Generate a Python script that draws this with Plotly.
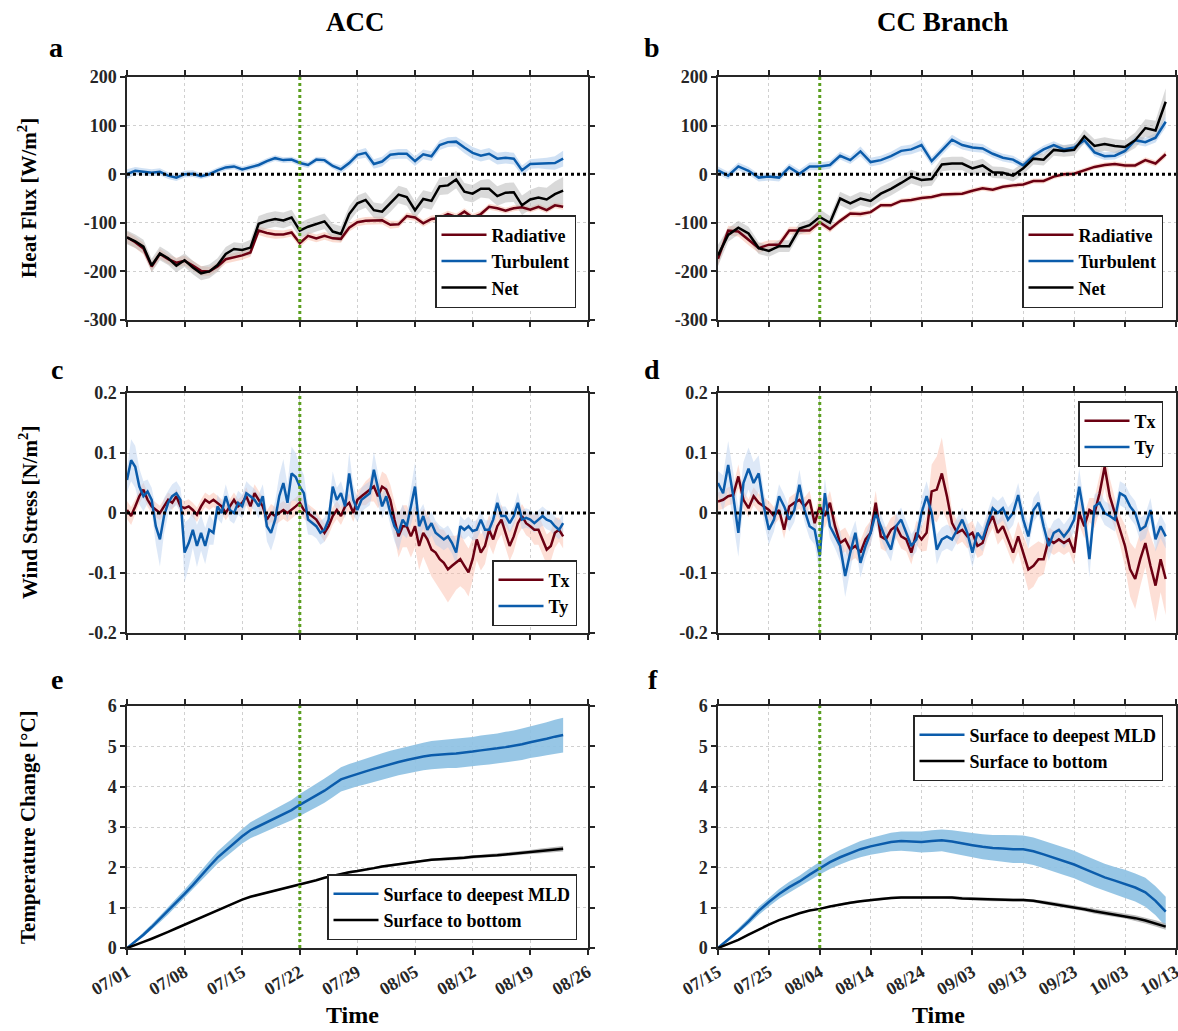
import pandas as pd
import plotly.graph_objects as go

# ---------------- DATA ----------------
ACC_START = "2021-07-01"
CC_START = "2021-07-15"

# Panel a: ACC heat flux (daily)
a_rad = [-130, -140, -153, -190, -164, -175, -182, -178, -188, -199,
         -200, -190, -175, -171, -167, -161, -116, -121, -124, -124,
         -120, -142, -127, -132, -127, -132, -133, -110, -99, -96,
         -96, -95, -104, -103, -86, -89, -101, -92, -90, -82,
         -88, -77, -89, -82, -67, -70, -75, -70, -68, -73,
         -67, -74, -64, -67]
a_turb = [0, 7, 5, 3, 5, -3, -7, 0, 1, -4,
          0, 8, 14, 16, 10, 14, 19, 27, 33, 29,
          30, 23, 19, 30, 29, 17, 10, 23, 40, 44,
          21, 26, 40, 42, 42, 27, 41, 37, 60, 66,
          67, 55, 44, 38, 42, 32, 34, 32, 8, 21,
          22, 22, 23, 32]
a_net = [-130, -138, -149, -188, -163, -173, -188, -177, -192, -204,
         -200, -187, -164, -154, -156, -151, -102, -96, -92, -95,
         -89, -116, -108, -102, -97, -118, -123, -82, -60, -53,
         -74, -77, -60, -42, -47, -74, -51, -55, -25, -23,
         -11, -36, -40, -30, -30, -45, -38, -37, -64, -52,
         -48, -52, -41, -34]
a_rad_sd = [12, 12, 12, 10, 10, 10, 10, 10, 10, 10, 9, 9, 9, 9, 9, 9, 9, 9, 9, 8,
            8, 8, 8, 8, 8, 8, 8, 8, 8, 8, 8, 8, 8, 7, 7, 7, 7, 7, 7, 7,
            7, 7, 7, 7, 6, 6, 6, 6, 6, 6, 6, 6, 6, 6]
a_turb_sd = [10, 8, 7, 7, 7, 7, 7, 7, 7, 6, 6, 6, 6, 6, 6, 6, 6, 6, 6, 6,
             6, 6, 6, 6, 6, 6, 8, 8, 9, 10, 10, 10, 10, 10, 10, 10, 10, 10, 10, 10,
             10, 12, 12, 12, 12, 12, 12, 12, 10, 10, 10, 12, 14, 16]
a_net_sd = [14, 14, 14, 14, 14, 14, 14, 14, 14, 14, 14, 14, 14, 14, 14, 16, 16, 16, 16, 16,
            16, 16, 16, 16, 16, 16, 16, 16, 16, 16, 16, 16, 18, 18, 18, 18, 18, 18, 18, 18,
            18, 18, 18, 18, 20, 20, 20, 20, 20, 20, 22, 24, 26, 28]

# Panel b: CC Branch heat flux (every 2 days)
b_rad = [-174, -116, -118, -136, -152, -145, -145, -116, -116, -116,
         -99, -113, -96, -81, -82, -78, -64, -64, -55, -53,
         -49, -47, -42, -41, -40, -34, -29, -32, -26, -23,
         -21, -14, -14, -5, 0, 1, 8, 15, 19, 21,
         18, 18, 29, 22, 41]
b_turb = [8, -3, 16, 7, -7, -5, -7, 14, 1, 16,
          16, 19, 38, 29, 47, 25, 29, 37, 48, 51,
          60, 27, 49, 71, 60, 55, 53, 42, 34, 30,
          18, 38, 51, 60, 51, 55, 70, 45, 37, 38,
          48, 70, 66, 75, 108]
b_net = [-167, -125, -110, -122, -152, -158, -148, -148, -112, -105,
         -88, -100, -50, -60, -50, -55, -40, -30, -18, -5,
         -12, -10, 20, 22, 22, 12, 18, 4, 3, -3,
         12, 32, 30, 50, 48, 50, 78, 58, 62, 58,
         56, 70, 95, 90, 149]
b_rad_sd = [14, 10, 10, 10, 10, 9, 9, 8, 8, 8, 7, 7, 6, 6, 6, 5, 5, 5, 5, 5,
            5, 5, 5, 5, 5, 5, 5, 5, 5, 5, 5, 5, 5, 5, 5, 5, 5, 5, 5, 5,
            5, 5, 6, 6, 7]
b_turb_sd = [8, 8, 8, 8, 8, 8, 8, 8, 8, 8, 8, 8, 8, 8, 10, 9, 9, 9, 10, 10,
             12, 9, 9, 10, 9, 9, 9, 8, 8, 8, 8, 8, 8, 8, 8, 8, 8, 8, 8, 8,
             8, 9, 9, 10, 12]
b_net_sd = [22, 14, 14, 14, 12, 12, 12, 12, 12, 12, 16, 14, 14, 14, 14, 14, 14, 14, 14, 14,
            14, 14, 14, 14, 14, 14, 14, 12, 12, 12, 12, 12, 12, 12, 12, 12, 14, 14, 14, 14,
            14, 16, 18, 20, 28]

# Panel c: ACC wind stress (every 12 h)
c_tx = [0.005, -0.005, 0.011, 0.028, 0.039, 0.022, 0.011, 0.005, 0.0, 0.011,
        0.022, 0.017, 0.028, 0.011, 0.008, 0.011, 0.005, -0.003, 0.011, 0.022,
        0.017, 0.022, 0.017, 0.011, 0.0, 0.011, 0.022, 0.011, 0.017, 0.028,
        0.011, 0.033, 0.022, 0.011, -0.011, 0.0, -0.005, 0.0, 0.005, 0.0,
        0.005, 0.011, 0.017, 0.005, 0.0, -0.005, -0.011, -0.022, -0.033, -0.022,
        -0.005, 0.005, -0.005, 0.011, 0.017, 0.0, 0.022, 0.028, 0.033, 0.039,
        0.044, 0.028, 0.044, 0.039, 0.022, -0.011, -0.039, -0.022, -0.022, -0.039,
        -0.022, -0.055, -0.033, -0.044, -0.061, -0.066, -0.077, -0.083, -0.094, -0.088,
        -0.083, -0.077, -0.088, -0.099, -0.077, -0.044, -0.066, -0.055, -0.028, -0.044,
        -0.022, -0.011, -0.033, -0.055, -0.039, -0.017, -0.005, -0.017, -0.022, -0.028,
        -0.028, -0.044, -0.061, -0.055, -0.033, -0.028, -0.039]
c_ty = [0.055, 0.088, 0.077, 0.044, 0.028, 0.036, 0.022, -0.022, -0.044, -0.005,
        0.017, 0.028, 0.033, 0.022, -0.066, -0.050, -0.028, -0.055, -0.033, -0.055,
        -0.028, -0.033, 0.011, 0.0, 0.028, 0.005, 0.0, 0.017, 0.011, 0.033,
        0.028, 0.022, 0.011, 0.028, -0.022, -0.033, -0.011, 0.028, 0.050, 0.017,
        0.066, 0.060, 0.044, 0.033, -0.011, -0.017, -0.022, -0.033, -0.028, -0.011,
        0.044, 0.022, 0.033, 0.011, 0.066, 0.022, 0.005, 0.022, 0.028, 0.033,
        0.072, 0.039, 0.011, 0.028, 0.0, -0.022, -0.033, -0.011, -0.022, 0.011,
        0.044, -0.022, -0.005, -0.028, -0.017, -0.033, -0.039, -0.044, -0.039, -0.050,
        -0.066, -0.022, -0.028, -0.022, -0.030, -0.028, -0.011, -0.028, -0.028, -0.011,
        0.017, -0.005, -0.005, -0.017, -0.005, 0.017, -0.011, -0.008, -0.011, -0.017,
        -0.011, -0.005, -0.011, -0.014, -0.022, -0.028, -0.017]
c_tx_sd = [0.015, 0.015, 0.012, 0.012, 0.012, 0.012, 0.012, 0.012, 0.012, 0.012,
           0.012, 0.012, 0.012, 0.012, 0.012, 0.012, 0.012, 0.012, 0.012, 0.012,
           0.012, 0.012, 0.012, 0.012, 0.012, 0.012, 0.012, 0.012, 0.012, 0.015,
           0.015, 0.015, 0.015, 0.015, 0.015, 0.015, 0.015, 0.015, 0.015, 0.015,
           0.015, 0.015, 0.015, 0.015, 0.015, 0.015, 0.015, 0.015, 0.015, 0.015,
           0.015, 0.015, 0.015, 0.015, 0.015, 0.015, 0.015, 0.015, 0.02, 0.02,
           0.025, 0.02, 0.025, 0.025, 0.025, 0.03, 0.035, 0.035, 0.035, 0.035,
           0.035, 0.04, 0.04, 0.045, 0.045, 0.05, 0.05, 0.055, 0.055, 0.05,
           0.045, 0.045, 0.04, 0.04, 0.035, 0.035, 0.03, 0.03, 0.025, 0.025,
           0.025, 0.025, 0.025, 0.025, 0.025, 0.02, 0.02, 0.02, 0.02, 0.025,
           0.025, 0.025, 0.025, 0.025, 0.025, 0.02, 0.02]
c_ty_sd = [0.02, 0.035, 0.035, 0.03, 0.025, 0.02, 0.02, 0.03, 0.045, 0.03,
           0.02, 0.02, 0.02, 0.02, 0.05, 0.04, 0.03, 0.035, 0.03, 0.03,
           0.025, 0.02, 0.02, 0.018, 0.02, 0.018, 0.018, 0.02, 0.02, 0.02,
           0.018, 0.018, 0.02, 0.02, 0.025, 0.03, 0.03, 0.035, 0.04, 0.03,
           0.045, 0.04, 0.035, 0.03, 0.025, 0.02, 0.02, 0.02, 0.02, 0.02,
           0.025, 0.02, 0.02, 0.02, 0.035, 0.025, 0.02, 0.02, 0.02, 0.02,
           0.03, 0.025, 0.02, 0.02, 0.02, 0.025, 0.03, 0.025, 0.02, 0.03,
           0.04, 0.025, 0.02, 0.02, 0.02, 0.02, 0.018, 0.018, 0.018, 0.018,
           0.02, 0.018, 0.016, 0.016, 0.016, 0.016, 0.016, 0.016, 0.016, 0.016,
           0.018, 0.016, 0.016, 0.016, 0.016, 0.018, 0.016, 0.016, 0.016, 0.016,
           0.016, 0.016, 0.016, 0.016, 0.016, 0.016, 0.016]

# Panel d: CC Branch wind stress (daily)
d_tx = [0.019, 0.022, 0.028, 0.03, 0.061, 0.022, 0.008, 0.028, 0.017, 0.011,
        0.005, -0.005, 0.005, -0.028, 0.011, 0.017, 0.022, 0.011, 0.022, -0.017,
        0.011, -0.005, 0.017, -0.022, -0.05, -0.044, -0.061, -0.055, -0.066, -0.044,
        -0.033, 0.017, -0.039, -0.044, -0.028, -0.022, -0.039, -0.044, -0.066, -0.033,
        -0.044, -0.033, 0.036, 0.039, 0.066, 0.028, -0.017, -0.033, -0.028, -0.039,
        -0.033, -0.055, -0.05, -0.022, -0.005, -0.033, -0.022, -0.044, -0.066, -0.039,
        -0.066, -0.094, -0.088, -0.077, -0.077, -0.044, -0.05, -0.044, -0.05, -0.044,
        -0.066, 0.0, -0.022, 0.005, 0.0, 0.033, 0.077, 0.028, 0.0, -0.028,
        -0.055, -0.094, -0.11, -0.077, -0.05, -0.088, -0.121, -0.077, -0.11]
d_ty = [0.05, 0.033, 0.08, 0.028, -0.033, 0.05, 0.074, 0.05, 0.066, 0.011,
        -0.028, -0.011, 0.028, 0.011, -0.011, 0.005, 0.047, 0.005, -0.022, -0.028,
        -0.072, 0.033, -0.022, -0.039, -0.055, -0.105, -0.066, -0.033, -0.083, -0.055,
        -0.033, 0.0, -0.022, -0.044, -0.061, -0.022, -0.011, -0.033, -0.055, -0.044,
        0.0, 0.028, 0.0, -0.061, -0.044, -0.039, -0.044, -0.028, -0.011, -0.033,
        -0.066, -0.033, -0.044, -0.017, 0.008, 0.0, 0.008, -0.011, 0.0, 0.03,
        -0.011, -0.039, 0.005, 0.017, -0.022, -0.055, -0.033, -0.028, -0.039, -0.028,
        -0.011, 0.044, -0.005, -0.077, 0.011, 0.017, 0.0, -0.005, -0.011, 0.033,
        0.028, 0.011, 0.0, -0.028, -0.022, 0.005, -0.044, -0.022, -0.039]
d_tx_sd = [0.015, 0.015, 0.015, 0.015, 0.02, 0.015, 0.015, 0.015, 0.015, 0.015,
           0.015, 0.015, 0.015, 0.015, 0.015, 0.015, 0.015, 0.015, 0.015, 0.015,
           0.02, 0.02, 0.02, 0.02, 0.02, 0.02, 0.02, 0.02, 0.02, 0.02,
           0.02, 0.02, 0.02, 0.02, 0.02, 0.02, 0.02, 0.02, 0.02, 0.02,
           0.02, 0.03, 0.045, 0.055, 0.06, 0.04, 0.02, 0.02, 0.02, 0.02,
           0.02, 0.02, 0.02, 0.02, 0.02, 0.02, 0.02, 0.02, 0.02, 0.025,
           0.03, 0.035, 0.035, 0.03, 0.025, 0.02, 0.02, 0.02, 0.02, 0.02,
           0.02, 0.02, 0.02, 0.02, 0.025, 0.03, 0.035, 0.03, 0.025, 0.025,
           0.035, 0.045, 0.05, 0.045, 0.04, 0.05, 0.06, 0.055, 0.06]
d_ty_sd = [0.02, 0.03, 0.04, 0.04, 0.04, 0.035, 0.035, 0.035, 0.03, 0.025,
           0.025, 0.02, 0.02, 0.02, 0.02, 0.02, 0.025, 0.02, 0.02, 0.025,
           0.03, 0.025, 0.02, 0.02, 0.025, 0.035, 0.03, 0.02, 0.025, 0.02,
           0.02, 0.02, 0.02, 0.02, 0.02, 0.02, 0.02, 0.02, 0.02, 0.02,
           0.025, 0.025, 0.02, 0.025, 0.02, 0.02, 0.02, 0.02, 0.02, 0.02,
           0.025, 0.02, 0.02, 0.02, 0.02, 0.02, 0.02, 0.02, 0.02, 0.02,
           0.02, 0.02, 0.02, 0.02, 0.02, 0.025, 0.02, 0.02, 0.02, 0.02,
           0.02, 0.03, 0.02, 0.03, 0.02, 0.02, 0.02, 0.02, 0.02, 0.02,
           0.02, 0.02, 0.02, 0.02, 0.02, 0.02, 0.02, 0.02, 0.02]

# Panel e: ACC temperature change (daily)
e_mld = [0.00, 0.16, 0.33, 0.52, 0.72, 0.92, 1.12, 1.34, 1.56, 1.80,
         2.02, 2.24, 2.42, 2.60, 2.77, 2.92, 3.02, 3.12, 3.22, 3.32,
         3.42, 3.55, 3.66, 3.78, 3.90, 4.04, 4.18, 4.25, 4.32, 4.38,
         4.44, 4.50, 4.56, 4.61, 4.66, 4.71, 4.75, 4.78, 4.80, 4.81,
         4.82, 4.84, 4.87, 4.90, 4.92, 4.95, 4.98, 5.01, 5.05, 5.10,
         5.14, 5.19, 5.24, 5.28]
e_bot = [0.00, 0.07, 0.15, 0.23, 0.31, 0.40, 0.49, 0.58, 0.67, 0.76,
         0.86, 0.95, 1.03, 1.12, 1.20, 1.27, 1.32, 1.37, 1.42, 1.47,
         1.52, 1.57, 1.62, 1.68, 1.74, 1.79, 1.84, 1.88, 1.91, 1.94,
         1.98, 2.02, 2.05, 2.08, 2.11, 2.14, 2.17, 2.19, 2.20, 2.21,
         2.22, 2.24, 2.26, 2.27, 2.29, 2.30, 2.32, 2.34, 2.36, 2.38,
         2.40, 2.42, 2.44, 2.46]
e_mld_sd = [0.0, 0.03, 0.05, 0.07, 0.08, 0.09, 0.10, 0.11, 0.12, 0.13,
            0.14, 0.15, 0.16, 0.17, 0.18, 0.20, 0.21, 0.22, 0.23, 0.24,
            0.25, 0.27, 0.28, 0.29, 0.30, 0.30, 0.30, 0.31, 0.31, 0.32,
            0.32, 0.33, 0.33, 0.33, 0.34, 0.34, 0.34, 0.35, 0.35, 0.35,
            0.36, 0.36, 0.36, 0.37, 0.37, 0.37, 0.38, 0.38, 0.39, 0.39,
            0.40, 0.41, 0.42, 0.43]
e_bot_sd = [0.0, 0.01, 0.01, 0.01, 0.01, 0.01, 0.02, 0.02, 0.02, 0.02,
            0.02, 0.02, 0.02, 0.02, 0.02, 0.02, 0.02, 0.02, 0.02, 0.02,
            0.02, 0.02, 0.02, 0.02, 0.02, 0.02, 0.03, 0.03, 0.03, 0.03,
            0.03, 0.03, 0.03, 0.03, 0.03, 0.03, 0.03, 0.03, 0.03, 0.04,
            0.04, 0.04, 0.04, 0.04, 0.04, 0.04, 0.05, 0.05, 0.05, 0.05,
            0.06, 0.06, 0.07, 0.07]

# Panel f: CC Branch temperature change (every 2 days)
f_mld = [0.00, 0.20, 0.42, 0.66, 0.92, 1.14, 1.34, 1.51, 1.65, 1.82,
         1.98, 2.13, 2.25, 2.36, 2.45, 2.52, 2.58, 2.63, 2.65, 2.64,
         2.63, 2.65, 2.67, 2.64, 2.59, 2.55, 2.51, 2.48, 2.47, 2.45,
         2.45, 2.40, 2.32, 2.24, 2.15, 2.07, 1.96, 1.85, 1.75, 1.67,
         1.59, 1.50, 1.38, 1.17, 0.90]
f_bot = [0.00, 0.10, 0.20, 0.33, 0.46, 0.58, 0.69, 0.78, 0.86, 0.93,
         0.97, 1.03, 1.08, 1.12, 1.16, 1.19, 1.22, 1.24, 1.25, 1.25,
         1.25, 1.26, 1.26, 1.25, 1.23, 1.22, 1.21, 1.20, 1.19, 1.19,
         1.19, 1.17, 1.13, 1.09, 1.05, 1.01, 0.96, 0.91, 0.87, 0.83,
         0.79, 0.74, 0.68, 0.61, 0.53]
f_mld_sd = [0.0, 0.04, 0.06, 0.08, 0.10, 0.11, 0.12, 0.13, 0.14, 0.15,
            0.16, 0.17, 0.18, 0.19, 0.20, 0.21, 0.22, 0.23, 0.24, 0.25,
            0.26, 0.27, 0.27, 0.28, 0.29, 0.30, 0.31, 0.32, 0.33, 0.34,
            0.34, 0.34, 0.34, 0.34, 0.34, 0.34, 0.34, 0.34, 0.34, 0.34,
            0.35, 0.35, 0.36, 0.36, 0.37]
f_bot_sd = [0.0, 0.01, 0.01, 0.01, 0.02, 0.02, 0.02, 0.02, 0.02, 0.02,
            0.02, 0.02, 0.03, 0.03, 0.03, 0.03, 0.03, 0.03, 0.03, 0.03,
            0.03, 0.03, 0.03, 0.04, 0.04, 0.04, 0.04, 0.04, 0.04, 0.04,
            0.04, 0.04, 0.05, 0.05, 0.05, 0.05, 0.05, 0.06, 0.06, 0.06,
            0.06, 0.07, 0.07, 0.08, 0.08]

HF_TICKS = [-300, -200, -100, 0, 100, 200]
WS_TICKS = [-0.2, -0.1, 0, 0.1, 0.2]
WS_TICKTEXT = ["-0.2", "-0.1", "0", "0.1", "0.2"]
TC_TICKS = [0, 1, 2, 3, 4, 5, 6]

# ---------------- STYLE ----------------
W, H = 1178, 1031
FONT = "Liberation Serif, Times New Roman, serif"
AXC = "#262626"
RED = "#6b0012"
BLUE = "#0b5cab"
BLACK = "#000000"
GREEN = "#5a9e1e"

COLS = [(127, 588), (718, 1176)]
ROWS = [(77, 320), (393, 633), (706, 948)]


def fx(p):
    return p / W


def fy(p):
    return 1 - p / H


t_a = pd.date_range(ACC_START, periods=len(a_rad), freq="D")
t_b = pd.date_range(CC_START, periods=len(b_rad), freq="2D")
t_c = pd.date_range(ACC_START, periods=len(c_tx), freq="12h")
t_d = pd.date_range(CC_START, periods=len(d_tx), freq="D")
t_e = pd.date_range(ACC_START, periods=len(e_mld), freq="D")
t_f = pd.date_range(CC_START, periods=len(f_mld), freq="2D")

fig = go.Figure()


def band(t, y, sd, color, ax):
    up = [v + s for v, s in zip(y, sd)]
    lo = [v - s for v, s in zip(y, sd)]
    xs = list(t) + list(t[::-1])
    ys = up + lo[::-1]
    fig.add_trace(go.Scatter(x=xs, y=ys, fill="toself", fillcolor=color,
                             line=dict(width=0), mode="lines", hoverinfo="skip",
                             showlegend=False, xaxis="x" + ax, yaxis="y" + ax))


def line(t, y, color, name, ax, leg):
    fig.add_trace(go.Scatter(x=list(t), y=y, mode="lines", name=name,
                             line=dict(color=color, width=2.5),
                             xaxis="x" + ax, yaxis="y" + ax, legend=leg))


# panel a
band(t_a, a_rad, a_rad_sd, "rgba(248,190,170,0.55)", "")
band(t_a, a_turb, a_turb_sd, "rgba(170,200,235,0.55)", "")
band(t_a, a_net, a_net_sd, "rgba(180,180,180,0.5)", "")
line(t_a, a_rad, RED, "Radiative", "", "legend")
line(t_a, a_turb, BLUE, "Turbulent", "", "legend")
line(t_a, a_net, BLACK, "Net", "", "legend")
# panel b
band(t_b, b_rad, b_rad_sd, "rgba(248,190,170,0.55)", "2")
band(t_b, b_turb, b_turb_sd, "rgba(170,200,235,0.55)", "2")
band(t_b, b_net, b_net_sd, "rgba(180,180,180,0.5)", "2")
line(t_b, b_rad, RED, "Radiative", "2", "legend2")
line(t_b, b_turb, BLUE, "Turbulent", "2", "legend2")
line(t_b, b_net, BLACK, "Net", "2", "legend2")
# panel c
band(t_c, c_tx, c_tx_sd, "rgba(250,185,165,0.45)", "3")
band(t_c, c_ty, c_ty_sd, "rgba(180,205,238,0.45)", "3")
line(t_c, c_tx, RED, "Tx", "3", "legend3")
line(t_c, c_ty, BLUE, "Ty", "3", "legend3")
# panel d
band(t_d, d_tx, d_tx_sd, "rgba(250,185,165,0.45)", "4")
band(t_d, d_ty, d_ty_sd, "rgba(180,205,238,0.45)", "4")
line(t_d, d_tx, RED, "Tx", "4", "legend4")
line(t_d, d_ty, BLUE, "Ty", "4", "legend4")
# panel e
band(t_e, e_mld, e_mld_sd, "rgba(140,192,226,0.9)", "5")
band(t_e, e_bot, e_bot_sd, "rgba(170,170,170,0.8)", "5")
line(t_e, e_mld, BLUE, "Surface to deepest MLD", "5", "legend5")
line(t_e, e_bot, BLACK, "Surface to bottom", "5", "legend5")
# panel f
band(t_f, f_mld, f_mld_sd, "rgba(140,192,226,0.9)", "6")
band(t_f, f_bot, f_bot_sd, "rgba(170,170,170,0.8)", "6")
line(t_f, f_mld, BLUE, "Surface to deepest MLD", "6", "legend6")
line(t_f, f_bot, BLACK, "Surface to bottom", "6", "legend6")

layout = dict(width=W, height=H, autosize=False,
              margin=dict(l=0, r=0, t=0, b=0, pad=0, autoexpand=False),
              paper_bgcolor="white", plot_bgcolor="white",
              font=dict(family=FONT, size=17, color=AXC, weight="bold"),
              showlegend=True)

x_ranges = [("2021-07-01", "2021-08-26 00:30", "2021-07-01", 7),
            ("2021-07-15", "2021-10-13 00:30", "2021-07-15", 10)]
y_cfg = [(HF_TICKS, [str(v) for v in HF_TICKS], [-300, 200]),
         (WS_TICKS, WS_TICKTEXT, [-0.2, 0.2]),
         (TC_TICKS, [str(v) for v in TC_TICKS], [0, 6])]

for r in range(3):
    for c in range(2):
        i = r * 2 + c + 1
        sfx = "" if i == 1 else str(i)
        x0, x1 = COLS[c]
        ytop, ybot = ROWS[r]
        xr = x_ranges[c]
        common = dict(showline=True, linecolor=AXC, linewidth=1.5, mirror="ticks",
                      ticks="outside", ticklen=5, tickwidth=1.5, tickcolor=AXC,
                      showgrid=True, gridcolor="#d0d0d0", griddash="dot", gridwidth=1,
                      zeroline=False, automargin=False)
        layout["xaxis" + sfx] = dict(
            common, domain=[fx(x0), fx(x1)], anchor="y" + sfx, type="date",
            range=[xr[0], xr[1]], tick0=xr[2], dtick=xr[3] * 86400000,
            tickformat="%m/%d", showticklabels=(r == 2), tickangle=-30,
            ticklabeloverflow="allow",
            tickfont=dict(size=18, family=FONT, color=AXC, weight="bold"))
        yt = y_cfg[r]
        layout["yaxis" + sfx] = dict(
            common, domain=[fy(ybot), fy(ytop)], anchor="x" + sfx,
            range=yt[2], tickvals=yt[0], ticktext=yt[1],
            tickfont=dict(size=18, family=FONT, color=AXC, weight="bold"))

shapes = []
for i, vdate in zip(range(1, 7), ["2021-07-22", "2021-08-04"] * 3):
    sfx = "" if i == 1 else str(i)
    if i <= 4:
        shapes.append(dict(type="line", xref="x" + sfx + " domain", x0=0, x1=1,
                           yref="y" + sfx, y0=0, y1=0, layer="above",
                           line=dict(color="black", width=3, dash="dot")))
    shapes.append(dict(type="line", xref="x" + sfx, x0=vdate, x1=vdate,
                       yref="y" + sfx + " domain", y0=0, y1=1, layer="above",
                       line=dict(color=GREEN, width=3, dash="dot")))
layout["shapes"] = shapes

leg_common = dict(bgcolor="white", bordercolor=AXC, borderwidth=1.5,
                  font=dict(family=FONT, size=18, color="black", weight="bold"),
                  xref="paper", yref="paper", tracegroupgap=0, itemwidth=45)
layout["legend"] = dict(leg_common, x=fx(576), y=fy(308), xanchor="right", yanchor="bottom")
layout["legend2"] = dict(leg_common, x=fx(1163), y=fy(308), xanchor="right", yanchor="bottom")
layout["legend3"] = dict(leg_common, x=fx(577), y=fy(626), xanchor="right", yanchor="bottom")
layout["legend4"] = dict(leg_common, x=fx(1163), y=fy(401), xanchor="right", yanchor="top")
layout["legend5"] = dict(leg_common, x=fx(577), y=fy(940), xanchor="right", yanchor="bottom")
layout["legend6"] = dict(leg_common, x=fx(1163), y=fy(715), xanchor="right", yanchor="top")

ann = []


def add_text(text, px_x, px_y, size, angle=0):
    ann.append(dict(text=text, x=fx(px_x), y=fy(px_y), xref="paper", yref="paper",
                    showarrow=False, xanchor="center", yanchor="middle", textangle=angle,
                    font=dict(family=FONT, size=size, color="black", weight="bold")))


add_text("ACC", 355, 22, 27)
add_text("CC Branch", 943, 22, 27)
for letter, (lx, ly) in zip("abcdef", [(56, 48), (652, 48), (57, 369), (652, 369), (57, 679), (653, 679)]):
    add_text(letter, lx, ly, 28)
add_text("Heat Flux [W/m<sup>2</sup>]", 28, 198, 21, -90)
add_text("Wind Stress [N/m<sup>2</sup>]", 28, 513, 21, -90)
add_text("Temperature Change [°C]", 28, 827, 21, -90)
add_text("Time", 352, 1015, 24)
add_text("Time", 938, 1015, 24)
layout["annotations"] = ann

fig.update_layout(layout)
fig.write_html("out.html")
